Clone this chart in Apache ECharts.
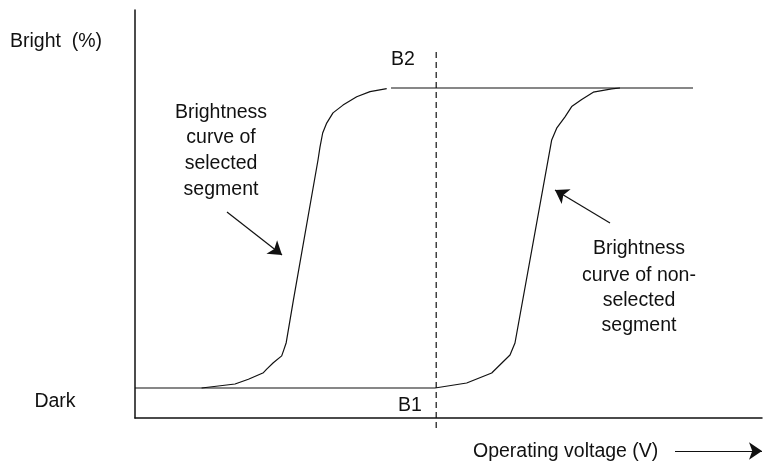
<!DOCTYPE html>
<html>
<head>
<meta charset="utf-8">
<script src="https://cdn.jsdelivr.net/npm/echarts@6/dist/echarts.min.js"></script>
<style>
  html, body { margin: 0; padding: 0; background: #fff; }
  #chart { width: 763px; height: 466px; }
</style>
</head>
<body>
<div id="chart"></div>
<script>
// voltage (arbitrary units) vs brightness (%)
const selectedCurve = [
  [11.1, 0], [16.67, 1.33], [18.9, 2.9], [21.4, 5.1], [21.95, 6.3], [23.05, 8.4],
  [24.45, 10.7], [24.8, 12.7], [25.2, 15.1], [26.4, 29.3], [30.5, 76], [30.83, 80.3],
  [31.28, 85], [31.95, 88.3], [33, 91.7], [34.67, 94.3], [36.95, 97.1], [39.17, 98.8],
  [41.95, 99.8]
];
const nonSelectedCurve = [
  [50, 0], [55.28, 1.67], [59.45, 5], [62.5, 11], [63.33, 15], [69.45, 82.7],
  [70.28, 86.6], [71.67, 90.4], [72.78, 93.8], [74.45, 96.2], [76.38, 98.6],
  [79.45, 99.7], [80.83, 100]
];
const darkLevel = [[0, 0], [50, 0]];        // B1
const brightLevel = [[42.67, 100], [93, 100]]; // B2
const thresholdV = [[50.2, -13.3], [50.2, 113.3]];
const arrows = [
  [[15.33, 58.67], [24.5, 44.33]],
  [[79.17, 55], [70, 66]],
  [[90, -21], [104.5, -21]]
];

const chart = echarts.init(document.getElementById('chart'));
const font = '"Liberation Sans", Arial, sans-serif';
const txt = (x, y, s, align) => ({
  type: 'text', x: x, y: y,
  style: { text: s, fill: '#111', font: '19.5px ' + font, align: align || 'center', verticalAlign: 'middle' }
});
const plain = { color: '#111', width: 1.2 };

chart.setOption({
  animation: false,
  grid: { left: 135, right: 1, top: 10, bottom: 48 },
  xAxis: {
    type: 'value', min: 0, max: 104.5,
    axisLine: { show: true, onZero: false, lineStyle: { color: '#111', width: 1.5 } },
    axisTick: { show: false }, axisLabel: { show: false }, splitLine: { show: false }
  },
  yAxis: {
    type: 'value', min: -10, max: 126,
    axisLine: { show: true, onZero: false, lineStyle: { color: '#111', width: 1.5 } },
    axisTick: { show: false }, axisLabel: { show: false }, splitLine: { show: false }
  },
  series: [
    { type: 'line', data: selectedCurve, symbol: 'none', lineStyle: plain, clip: false },
    { type: 'line', data: nonSelectedCurve, symbol: 'none', lineStyle: plain, clip: false },
    { type: 'line', data: darkLevel, symbol: 'none', lineStyle: plain },
    { type: 'line', data: brightLevel, symbol: 'none', lineStyle: plain },
    { type: 'line', data: thresholdV, symbol: 'none', clip: false,
      lineStyle: { color: '#111', width: 1.2, type: [6, 4] } },
    {
      type: 'lines', coordinateSystem: 'cartesian2d', clip: false,
      symbol: ['none', 'arrow'], symbolSize: 13,
      lineStyle: { color: '#111', width: 1.2, opacity: 1 },
      data: arrows.map(c => ({ coords: c }))
    }
  ],
  graphic: [
    txt(10, 42, 'Bright  (%)', 'left'),
    txt(55, 402, 'Dark'),
    txt(403, 60, 'B2'),
    txt(410, 406, 'B1'),
    txt(221, 113, 'Brightness'),
    txt(221, 138, 'curve of'),
    txt(221, 164, 'selected'),
    txt(221, 190, 'segment'),
    txt(639, 249, 'Brightness'),
    txt(639, 276, 'curve of non-'),
    txt(639, 301, 'selected'),
    txt(639, 326, 'segment'),
    txt(473, 452, 'Operating voltage (V)', 'left')
  ]
});
</script>
</body>
</html>
